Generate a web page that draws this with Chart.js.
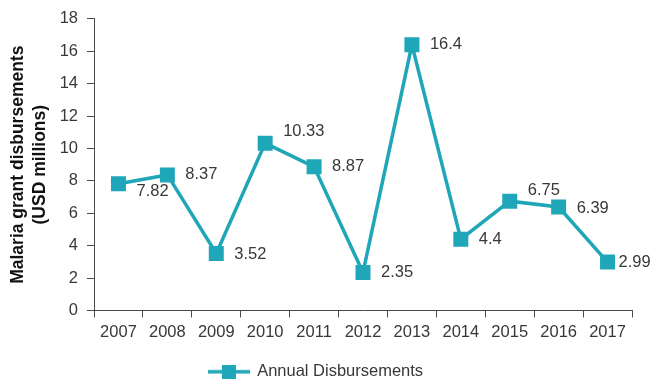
<!DOCTYPE html>
<html>
<head>
<meta charset="utf-8">
<script src="https://cdn.jsdelivr.net/npm/chart.js@4/dist/chart.umd.min.js"></script>
<style>
  html, body { margin: 0; padding: 0; background: #fff; }
  #wrap { width: 657px; height: 381px; }
</style>
</head>
<body>
<div id="wrap"><canvas id="chart"></canvas></div>
<script>
  // Annual malaria grant disbursements
  const years = ['2007', '2008', '2009', '2010', '2011', '2012', '2013', '2014', '2015', '2016', '2017'];
  const disbursements = [7.82, 8.37, 3.52, 10.33, 8.87, 2.35, 16.4, 4.4, 6.75, 6.39, 2.99];
  const yTicks = [0, 2, 4, 6, 8, 10, 12, 14, 16, 18];

  // where each value label sits relative to its marker
  const labelShift = [
    [18, 8], [18, 0], [18, 1], [18, -12], [18, 0], [18, 0],
    [18, 0], [18, 0], [18, -11], [18, 1], [11, 0]
  ];

  const teal = '#1fa6b8';
  const textColor = '#383838';
  const axisColor = '#4a4a4a';
  const fontFamily = '"Liberation Sans", Arial, Helvetica, sans-serif';
  const fontSize = 16.5;

  // legend swatch: short line with a square on it
  function legendSwatch() {
    const c = document.createElement('canvas');
    c.width = 42;
    c.height = 14;
    const g = c.getContext('2d');
    g.strokeStyle = teal;
    g.lineWidth = 3.5;
    g.beginPath();
    g.moveTo(0, 7);
    g.lineTo(42, 7);
    g.stroke();
    g.fillStyle = teal;
    g.fillRect(14, 0, 14, 14);
    return c;
  }
  const swatch = legendSwatch();

  const valueLabels = {
    id: 'valueLabels',
    afterDatasetsDraw(chart) {
      const ctx = chart.ctx;
      const meta = chart.getDatasetMeta(0);
      ctx.save();
      ctx.font = fontSize + 'px ' + fontFamily;
      ctx.fillStyle = textColor;
      ctx.textAlign = 'left';
      ctx.textBaseline = 'middle';
      meta.data.forEach((pt, i) => {
        const s = labelShift[i];
        ctx.fillText(String(disbursements[i]), pt.x + s[0], pt.y + s[1]);
      });
      ctx.restore();
    }
  };

  new Chart(document.getElementById('chart'), {
    type: 'line',
    data: {
      labels: years,
      datasets: [{
        label: 'Annual Disbursements',
        data: disbursements,
        borderColor: teal,
        backgroundColor: teal,
        borderWidth: 3.5,
        pointStyle: 'rect',
        pointRadius: 10.6,
        pointHoverRadius: 10.6,
        pointBackgroundColor: teal,
        pointBorderWidth: 0,
        tension: 0
      }]
    },
    options: {
      responsive: true,
      maintainAspectRatio: false,
      animation: false,
      layout: { padding: { top: 14, right: 25, left: 0, bottom: -9 } },
      plugins: {
        legend: {
          position: 'bottom',
          labels: {
            color: textColor,
            font: { family: fontFamily, size: fontSize },
            usePointStyle: true,
            pointStyleWidth: 40,
            padding: 1,
            generateLabels() {
              return [{
                text: 'Annual Disbursements',
                pointStyle: swatch,
                fillStyle: teal,
                strokeStyle: teal,
                lineWidth: 0,
                datasetIndex: 0,
                fontColor: textColor
              }];
            }
          }
        },
        tooltip: { enabled: false }
      },
      scales: {
        x: {
          offset: true,
          afterFit(axis) { axis.height = 52; },
          grid: {
            offset: true,
            drawOnChartArea: false,
            drawTicks: true,
            tickLength: 7,
            color: axisColor
          },
          border: { color: axisColor, width: 1 },
          ticks: {
            color: textColor,
            font: { family: fontFamily, size: fontSize },
            maxRotation: 0,
            padding: 5
          }
        },
        y: {
          min: 0,
          max: 18,
          afterBuildTicks(axis) {
            axis.ticks = yTicks.map(v => ({ value: v }));
          },
          afterFit(axis) { axis.width = 94; },
          grid: {
            drawOnChartArea: false,
            drawTicks: true,
            tickLength: 7,
            color: axisColor
          },
          border: { color: axisColor, width: 1 },
          ticks: {
            color: textColor,
            font: { family: fontFamily, size: fontSize },
            padding: 9
          },
          title: {
            display: true,
            text: ['Malaria grant disbursements', '(USD millions)'],
            color: '#111',
            font: { family: fontFamily, size: 17.5, weight: 'bold', lineHeight: 1.25 },
            padding: { top: 7, bottom: 0 }
          }
        }
      }
    },
    plugins: [valueLabels]
  });
</script>
</body>
</html>
